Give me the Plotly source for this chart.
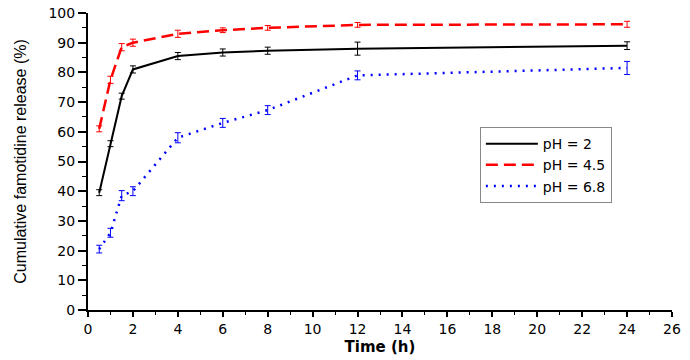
import plotly.graph_objects as go

time_h = [0.5, 1, 1.5, 2, 4, 6, 8, 12, 24]
ph2 = [39.5, 56.0, 72.0, 81.0, 85.5, 86.7, 87.3, 88.0, 89.0]
ph2_err = [1.0, 1.0, 1.0, 1.2, 1.2, 1.2, 1.2, 2.2, 1.3]
ph45 = [61.0, 77.5, 88.5, 90.0, 93.0, 94.2, 95.0, 96.0, 96.2]
ph45_err = [1.0, 1.2, 1.2, 1.2, 1.2, 0.8, 0.8, 0.8, 1.0]
ph68 = [20.5, 26.0, 38.5, 40.0, 58.0, 63.0, 67.3, 79.0, 81.5]
ph68_err = [1.3, 1.5, 1.7, 1.5, 1.7, 1.5, 1.5, 1.5, 2.2]

names = ["pH = 2", "pH = 4.5", "pH = 6.8"]
colors = ["black", "red", "blue"]
dashes = ["solid", "12px,6px", "2px,6px"]
widths = [2, 2.5, 2.5]

fig = go.Figure()
for y, e, n, c, d, w in zip([ph2, ph45, ph68], [ph2_err, ph45_err, ph68_err], names, colors, dashes, widths):
    fig.add_trace(go.Scatter(
        x=time_h, y=y, name=n, mode="lines",
        line=dict(color=c, width=w, dash=d),
        error_y=dict(type="data", array=e, visible=True, color=c, thickness=1, width=3),
    ))

tick_font = dict(family="DejaVu Sans", size=14, color="black")
fig.update_layout(
    width=690, height=360,
    margin=dict(l=88, r=18, t=13, b=50),
    plot_bgcolor="white", paper_bgcolor="white",
    showlegend=True,
    legend=dict(x=0.671, y=0.616, xanchor="left", yanchor="top",
                bordercolor="#888888", borderwidth=1, bgcolor="white",
                font=dict(family="DejaVu Sans", size=14, color="black"),
                tracegroupgap=0, itemwidth=52),
    xaxis=dict(range=[0, 26], tick0=0, dtick=2, ticks="outside", ticklen=5,
               tickwidth=1.5, tickcolor="black", automargin=False,
               minor=dict(dtick=1, ticks="outside", ticklen=3, tickcolor="black", tickwidth=1),
               showline=True, linecolor="black", linewidth=2, showgrid=False, zeroline=False,
               tickfont=tick_font,
               title=dict(text="<b>Time (h)</b>", font=dict(family="DejaVu Sans", size=15, color="black"), standoff=6)),
    yaxis=dict(range=[0, 100], tick0=0, dtick=10, ticks="outside", ticklen=8,
               tickwidth=1.5, tickcolor="black", automargin=False,
               minor=dict(dtick=5, ticks="outside", ticklen=4, tickcolor="black", tickwidth=1),
               showline=True, linecolor="black", linewidth=2, showgrid=False, zeroline=False,
               tickfont=tick_font,
               title=dict(text="Cumulative famotidine release (%)", font=dict(family="Liberation Sans", size=16, color="black"), standoff=18)),
)

fig.write_html("out.html", config={"displayModeBar": False},
               post_script="document.body.style.margin='0';")
